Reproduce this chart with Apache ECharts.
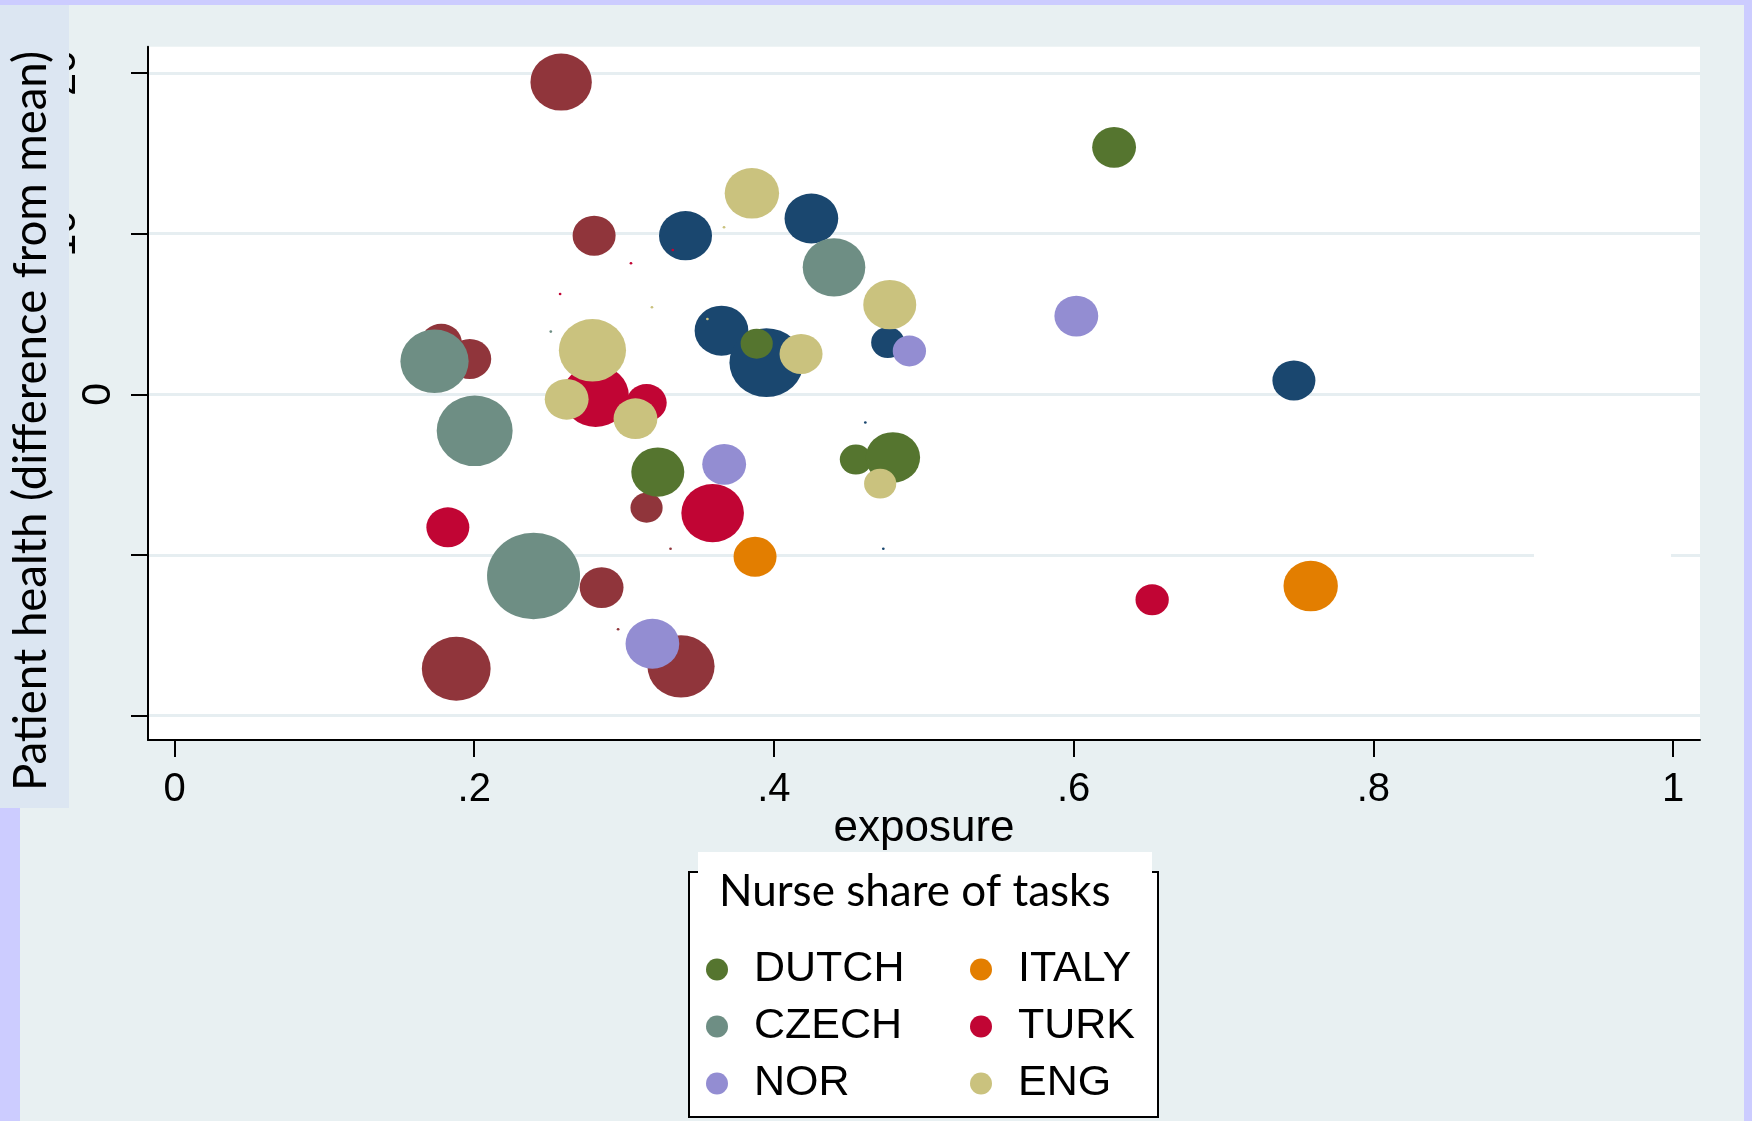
<!DOCTYPE html>
<html>
<head>
<meta charset="utf-8">
<script src="https://cdn.jsdelivr.net/npm/echarts@6/dist/echarts.min.js"></script>
<style>
  html, body { margin: 0; padding: 0; background: #e8f0f2; }
  #chart { width: 1752px; height: 1121px; }
</style>
</head>
<body>
<div id="chart"></div>
<script>
// Each point: [exposure, patient health (difference from mean), weight]
const groupNavy = [
  [0.341, 9.87, 38], [0.425, 10.94, 39], [0.365, 3.96, 39], [0.395, 1.97, 74],
  [0.476, 3.22, 15], [0.747, 0.86, 25], [0.473, -9.61, 0.1], [0.461, -1.76, 0.1]
];
const groupMaroon = [
  [0.258, 19.43, 51], [0.280, 9.87, 25], [0.178, 3.20, 23], [0.197, 2.20, 25],
  [0.315, -7.06, 14], [0.285, -12.03, 26], [0.188, -17.08, 64], [0.338, -16.93, 61],
  [0.331, -9.61, 0.1], [0.296, -14.62, 0.1]
];
const dutch = [
  [0.627, 15.37, 26], [0.3885, 3.15, 14], [0.3225, -4.84, 38], [0.4547, -4.06, 14], [0.4794, -3.93, 40]
];
const italy = [
  [0.3874, -10.11, 25], [0.7582, -11.93, 40]
];
const czech = [
  [0.1735, 2.05, 63], [0.4401, 7.90, 53], [0.2003, -2.27, 78], [0.2396, -11.31, 117], [0.2511, 3.90, 0.1]
];
const turk = [
  [0.281, -0.10, 60], [0.315, -0.53, 22], [0.1824, -8.28, 25], [0.3591, -7.39, 53], [0.6524, -12.78, 15],
  [0.3325, 8.98, 0.1], [0.3046, 8.15, 0.1], [0.2573, 6.24, 0.1]
];
const nor = [
  [0.6018, 4.87, 26], [0.4904, 2.70, 15], [0.3668, -4.36, 26], [0.3189, -15.52, 39]
];
const eng = [
  [0.3853, 12.51, 40], [0.4773, 5.58, 38], [0.2789, 2.74, 61], [0.4181, 2.51, 25],
  [0.2617, -0.31, 26], [0.3076, -1.52, 26], [0.4709, -5.56, 14],
  [0.3667, 10.39, 0.1], [0.3186, 5.41, 0.1], [0.3556, 4.69, 0.1]
];

const seriesNames = ['Group navy', 'Group maroon', 'DUTCH', 'ITALY', 'CZECH', 'TURK', 'NOR', 'ENG'];
const seriesData = [groupNavy, groupMaroon, dutch, italy, czech, turk, nor, eng];
const seriesColors = ['#1a476f', '#90353b', '#55752f', '#e37e00', '#6e8e84', '#c10534', '#938dd2', '#cac27e'];

const xTicks = [0, 0.2, 0.4, 0.6, 0.8, 1];
const xTickLabels = ['0', '.2', '.4', '.6', '.8', '1'];
const yTicks = [-20, -10, 0, 10, 20];
const yTickLabels = ['-20', '-10', '0', '10', '20'];

const legendLeftColumn = ['DUTCH', 'CZECH', 'NOR'];
const legendRightColumn = ['ITALY', 'TURK', 'ENG'];

// ellipse path, stretched to the symbol box
const ELLIPSE = 'path://M0,1A1,1 0 1,1 2,1A1,1 0 1,1 0,1Z';
const bubbleSize = v => {
  const d = 8 * Math.sqrt(v[2]);
  return [d * 1.075, d];
};

const chart = echarts.init(document.getElementById('chart'), null, { renderer: 'canvas' });

const labelFont = 'Liberation Sans, Arial, sans-serif';
const humanistFont = 'Lato, Carlito, Calibri, sans-serif';

const option = {
  backgroundColor: '#e8f0f2',
  animation: false,
  grid: {
    left: 148, right: 52, top: 46.7, bottom: 381,
    show: true, backgroundColor: '#ffffff', borderWidth: 0
  },
  xAxis: {
    type: 'value',
    min: -0.0177, max: 1.018,
    axisLine: { show: true, onZero: false, lineStyle: { color: '#000', width: 2 } },
    axisTick: { show: true, length: 17, lineStyle: { color: '#000', width: 2 }, customValues: xTicks },
    axisLabel: {
      customValues: xTicks,
      formatter: v => xTickLabels[xTicks.indexOf(v)],
      fontSize: 40, fontFamily: labelFont, color: '#000', margin: 30
    },
    splitLine: { show: false },
    name: 'exposure',
    nameLocation: 'middle',
    nameGap: 67,
    nameMoveOverlap: false,
    nameTextStyle: { fontSize: 44, fontFamily: labelFont, color: '#000' }
  },
  yAxis: {
    type: 'value',
    min: -21.512, max: 21.63,
    axisLine: { show: true, onZero: false, lineStyle: { color: '#000', width: 2 } },
    axisTick: { show: true, length: 17, lineStyle: { color: '#000', width: 2 }, customValues: yTicks },
    axisLabel: {
      customValues: yTicks,
      rotate: 90,
      formatter: v => {
        const t = yTickLabels[yTicks.indexOf(v)];
        if (v === 0) return '{z|' + t + '}';
        return (v > 0 ? '{p|' : '{n|') + t + '}';
      },
      rich: {
        z: { fontSize: 41, fontFamily: labelFont, color: '#000' },
        p: { fontSize: 41, fontFamily: labelFont, color: '#000', padding: [0, 0, 35, 0] },
        n: { fontSize: 41, fontFamily: labelFont, color: '#000', padding: [0, 0, 60, 0] }
      },
      margin: 29
    },
    splitLine: { show: true, lineStyle: { color: '#e6eef1', width: 3 } }
  },
  legend: [
    {
      data: legendLeftColumn, orient: 'vertical', left: 701, top: 943,
      icon: 'circle', itemWidth: 22, itemHeight: 22, itemGap: 14,
      selectedMode: false,
      textStyle: { fontSize: 43, fontFamily: labelFont, color: '#000', padding: [0, 0, 0, 21] }
    },
    {
      data: legendRightColumn, orient: 'vertical', left: 965, top: 943,
      icon: 'circle', itemWidth: 22, itemHeight: 22, itemGap: 14,
      selectedMode: false,
      textStyle: { fontSize: 43, fontFamily: labelFont, color: '#000', padding: [0, 0, 0, 21] }
    }
  ],
  graphic: [
    // lavender frame strips
    { type: 'rect', z: 50, shape: { x: 0, y: 0, width: 1752, height: 5 }, style: { fill: '#ccccff' } },
    { type: 'rect', z: 50, shape: { x: 0, y: 808, width: 20, height: 313 }, style: { fill: '#ccccff' } },
    { type: 'rect', z: 50, shape: { x: 1744, y: 0, width: 8, height: 1121 }, style: { fill: '#ccccff' } },
    // break in the -10 grid line
    { type: 'rect', z: 1, shape: { x: 1534, y: 551, width: 137, height: 8 }, style: { fill: '#ffffff' } },
    // y axis title box
    { type: 'rect', z: 40, shape: { x: 0, y: 5, width: 69, height: 803 }, style: { fill: '#dce6f2' } },
    {
      type: 'text', z: 41, x: 31, y: 421, rotation: Math.PI / 2,
      style: {
        text: 'Patient health (difference from mean)',
        font: '45.5px ' + humanistFont, fill: '#000',
        align: 'center', verticalAlign: 'middle'
      }
    },
    // legend frame and title
    { type: 'rect', z: 1, shape: { x: 689, y: 872, width: 469, height: 245 }, style: { fill: '#ffffff', stroke: '#000', lineWidth: 2 } },
    { type: 'rect', z: 2, shape: { x: 698, y: 852, width: 454, height: 30 }, style: { fill: '#ffffff' } },
    {
      type: 'text', z: 3, x: 719, y: 892,
      style: {
        text: 'Nurse share of tasks',
        font: '44px ' + humanistFont, fill: '#000',
        align: 'left', verticalAlign: 'middle'
      }
    }
  ],
  series: seriesData.map((d, i) => ({
    type: 'scatter',
    name: seriesNames[i],
    data: d,
    symbol: ELLIPSE,
    symbolSize: bubbleSize,
    itemStyle: { color: seriesColors[i], opacity: 1 },
    emphasis: { disabled: true },
    z: 2
  }))
};

chart.setOption(option);
</script>
</body>
</html>
